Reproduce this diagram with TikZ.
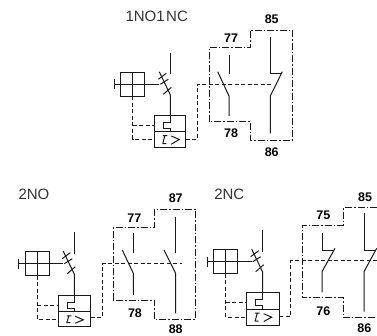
\documentclass[tikz,border=0pt]{standalone}
\usepackage{fontspec}
\setmainfont{Liberation Sans}
\tikzset{
  ln/.style={line width=1pt,black!90},
  dsh/.style={ln,dash pattern=on 4pt off 2.5pt},
  aux/.style={ln,dash pattern=on 7pt off 2pt on 1.5pt off 2pt},
  ttl/.style={font=\fontsize{15}{15}\selectfont,text=black!80,inner sep=0pt},
  lbl/.style={font=\fontsize{12.5}{13}\selectfont\bfseries,text=black,inner sep=0pt},
}
% #1 box cx, #2 box cy, #3 breaker x, #4 top y, #5 thermal left, #6 top, #7 right, #8 bottom
\newcommand{\protunit}[8]{
  \pgfmathsetmacro{\bl}{#1-11.8}\pgfmathsetmacro{\br}{#1+11.8}
  \pgfmathsetmacro{\bt}{#2-12.1}\pgfmathsetmacro{\bb}{#2+12.1}
  \pgfmathsetmacro{\tick}{#1-18.5}
  \pgfmathsetmacro{\mid}{#6+16.5}\pgfmathsetmacro{\la}{#6+7}\pgfmathsetmacro{\lb}{#6+13}
  \pgfmathsetmacro{\dy}{#6+24.3}\pgfmathsetmacro{\dx}{#3-7.3}
  \draw[ln] (\bl,\bt) rectangle (\br,\bb);
  \draw[ln] (#1,\bt) -- (#1,\bb);
  \draw[ln] (\tick,#2) -- (#3-11,#2);
  \draw[ln] (\tick,#2-5) -- (\tick,#2+5);
  \draw[ln] (#3,#4) -- (#3,#2-10);
  \draw[ln] (#3-11,#2-12.5) -- (#3,#2+10.5) -- (#3,#6);
  \draw[ln] (#3-12,#2-5) -- (#3-4,#2-11);
  \draw[ln] (#3-10,#2) -- (#3-2,#2-5);
  \draw[ln] (#3-7,#2+10) -- (#3+1,#2+3);
  \draw[ln] (#5,#6) rectangle (#7,#8);
  \draw[ln] (#5,\mid) -- (#7,\mid);
  \draw[ln] (#3,#6) -- (#3,\la) -- (\dx,\la) -- (\dx,\lb) -- (#3,\lb) -- (#3,\mid);
  \draw[ln] (#5+8,#8-4) -- (#5+12,#8-4) (#5+10.5,\mid+4) -- (#5+8.5,#8-4) (#5+8.5,\mid+4) -- (#5+13,\mid+4);
  \draw[ln] (#5+17,\mid+4.5) -- (#5+25,\mid+8) -- (#5+17,#8-3.5);
  \draw[dsh] (#1,\bb) -- (#1,\dy) -- (#5,\dy);
  \draw[dsh] (#1,#6+10) -- (#5,#6+10);
}
\begin{document}
\begin{tikzpicture}[x=1pt,y=-1pt]
\useasboundingbox (0,0) rectangle (377,335);
\fill[white] (0,0) rectangle (377,335);

% ---- 1NO1NC
\node[ttl] (t1) at (156.7,16.7) {1NO1\kern1.5pt NC};
\protunit{132.7}{84.3}{170.3}{53.3}{154.3}{115}{185.7}{147.7}
\draw[dsh] (185.7,139.3) -- (197.3,139.3) -- (197.3,84.3) -- (271.7,84.3);
\draw[aux] (209,121.7) -- (209,47.3) -- (250.7,47.3) -- (250.7,30) -- (292,30) -- (292,140.7) -- (250.7,140.7) -- (250.7,121.7) -- cycle;
\draw[ln] (229,55) -- (229,74);
\draw[ln] (217.7,71.7) -- (229,96) -- (229,116);
\draw[ln] (270.3,37.3) -- (270.3,73.3) -- (282,73.3);
\draw[ln] (282.3,71.7) -- (270.3,96) -- (270.3,133.3);
\node[lbl] (a1) at (231,38.3) {77};
\node[lbl] (a2) at (271.7,19.3) {85};
\node[lbl] (a3) at (231,133.3) {78};
\node[lbl] (a4) at (271.7,151.7) {86};

% ---- 2NO
\node[ttl] (t2) at (34,194.3) {2NO};
\protunit{37.3}{263.7}{74.3}{232.3}{58.3}{295.3}{90.7}{326.7}
\draw[dsh] (90.7,317.7) -- (102,317.7) -- (102,263.7) -- (181.7,263.7);
\draw[aux] (113.3,300) -- (113.3,227.3) -- (154.3,227.3) -- (154.3,209.3) -- (195.7,209.3) -- (195.7,319.3) -- (154.3,319.3) -- (154.3,300) -- cycle;
\draw[ln] (133.3,233.3) -- (133.3,253.3);
\draw[ln] (122.3,250) -- (133.3,273.3) -- (133.3,295);
\draw[ln] (175.7,216.7) -- (175.7,253.3);
\draw[ln] (164,250) -- (175.7,273.3) -- (175.7,313.3);
\node[lbl] (b1) at (134.3,217.7) {77};
\node[lbl] (b2) at (175.7,198.3) {87};
\node[lbl] (b3) at (135,312.7) {78};
\node[lbl] (b4) at (175.7,329.5) {88};

% ---- 2NC
\node[ttl] (t3) at (229.3,194.3) {2NC};
\protunit{225.7}{261.7}{262.7}{230}{246.7}{292.7}{279}{325}
\draw[dsh] (279,316) -- (290.7,316) -- (290.7,260.7) -- (377,260.7);
\draw[aux] (377,207.7) -- (343.3,207.7) -- (343.3,225) -- (302.3,225) -- (302.3,297.7) -- (343.3,297.7) -- (343.3,317.7) -- (377,317.7);
\draw[ln] (322,233.3) -- (322,250) -- (334,250);
\draw[ln] (335,248.3) -- (322,271.7) -- (322,292.3);
\draw[ln] (364,213.3) -- (364,250) -- (375,250);
\draw[ln] (376.7,248.3) -- (364,271.7) -- (364,311.7);
\node[lbl] (c1) at (323.3,215.7) {75};
\node[lbl] (c2) at (365,196.7) {85};
\node[lbl] (c3) at (323.3,311) {76};
\node[lbl] (c4) at (364.3,328) {86};
\end{tikzpicture}
\end{document}
